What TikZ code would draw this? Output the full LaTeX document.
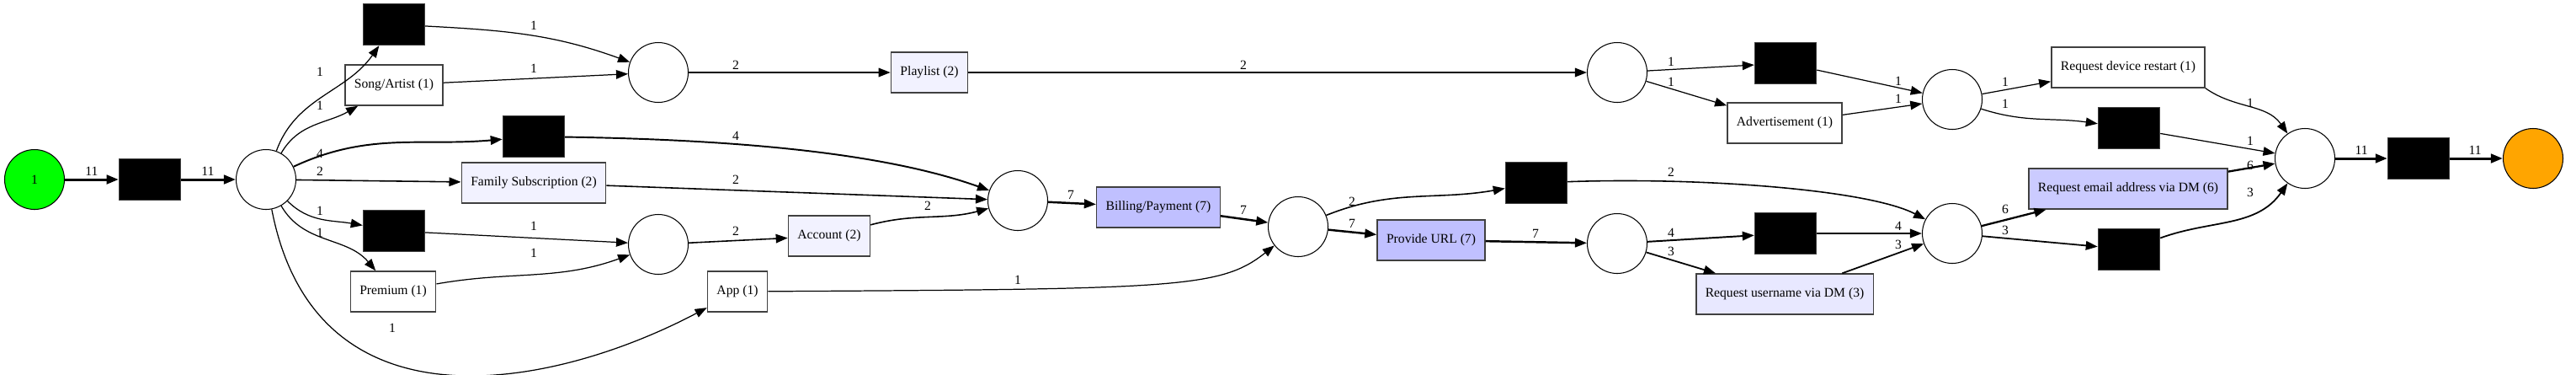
\documentclass[tikz,border=0pt]{standalone}
\usepackage{fontspec}
\setmainfont{Liberation Serif}
\usetikzlibrary{arrows.meta}

\definecolor{actlight}{HTML}{F2F2FF}
\definecolor{actpale}{HTML}{E8E8FF}
\definecolor{actmid}{HTML}{CBCBFF}
\definecolor{actdark}{HTML}{C0C0FF}
\definecolor{startgreen}{HTML}{00FF00}
\definecolor{endorange}{HTML}{FFA500}

\tikzset{
	place/.style={circle, draw, line width=0.3pt, minimum size=0.71cm, inner sep=0pt, font=\fontsize{4.45}{5}\selectfont},
	silent/.style={rectangle, draw=black!75, fill=black, minimum width=0.73cm, minimum height=0.49cm, inner sep=0pt},
	activity/.style={rectangle, draw=black!75, line width=0.42pt, minimum height=0.48cm, inner xsep=0.11cm, inner ysep=0pt, font=\fontsize{4.45}{5}\selectfont},
	flow/.style={-{Triangle[length=4pt,width=3pt]}, line width=#1},
	flow/.default=0.35pt,
	wt/.style={inner sep=0pt, font=\fontsize{4.45}{5}\selectfont}
}

\begin{document}
\begin{tikzpicture}
	\useasboundingbox (0,0) rectangle (30.6,-4.44);

	\node[place, fill=startgreen] (src) at (0.41,-2.13) {1};
	\node[silent] (t0) at (1.78,-2.13) {};
	\node[place] (p1) at (3.16,-2.13) {};
	\node[silent] (ta) at (4.68,-0.29) {};
	\node[activity] (song) at (4.68,-1.01) {Song/Artist (1)};
	\node[silent] (tb) at (6.34,-1.62) {};
	\node[activity, fill=actlight] (fam) at (6.34,-2.17) {Family Subscription (2)};
	\node[silent] (tc) at (4.68,-2.74) {};
	\node[activity] (prem) at (4.67,-3.46) {Premium (1)};
	\node[place] (p2) at (7.82,-0.86) {};
	\node[place] (p3) at (7.82,-2.90) {};
	\node[activity] (app) at (8.76,-3.46) {App (1)};
	\node[activity, fill=actlight] (play) at (11.04,-0.86) {Playlist (2)};
	\node[activity, fill=actlight] (acc) at (9.85,-2.80) {Account (2)};
	\node[place] (p4) at (12.09,-2.38) {};
	\node[activity, fill=actdark] (bill) at (13.76,-2.46) {Billing/Payment (7)};
	\node[place] (p5) at (15.42,-2.69) {};
	\node[place] (p6) at (19.21,-0.86) {};
	\node[silent] (td) at (21.21,-0.75) {};
	\node[activity] (adv) at (21.20,-1.46) {Advertisement (1)};
	\node[silent] (te) at (18.25,-2.17) {};
	\node[activity, fill=actdark] (url) at (17.00,-2.85) {Provide URL (7)};
	\node[place] (p7) at (19.21,-2.89) {};
	\node[silent] (tf) at (21.21,-2.77) {};
	\node[activity, fill=actpale] (user) at (21.20,-3.49) {Request username via DM (3)};
	\node[place] (p9) at (23.19,-1.18) {};
	\node[place] (p8) at (23.19,-2.77) {};
	\node[activity] (restart) at (25.28,-0.80) {Request device restart (1)};
	\node[silent] (tg) at (25.29,-1.52) {};
	\node[activity, fill=actmid] (email) at (25.28,-2.24) {Request email address via DM (6)};
	\node[silent] (th) at (25.29,-2.96) {};
	\node[place] (p10) at (27.38,-1.88) {};
	\node[silent] (tend) at (28.73,-1.88) {};
	\node[place, fill=endorange] (sink) at (30.09,-1.88) {};

	\draw[flow=0.85pt] (src) -- (t0);
	\draw[flow=0.85pt] (t0) -- (p1);
	\draw[flow] (p1) to[out=70, in=235] (ta);
	\draw[flow] (ta) to[out=-3, in=160] (p2);
	\draw[flow] (p1) to[out=60, in=210] (song);
	\draw[flow] (song) -- (p2);
	\draw[flow=0.55pt] (p1) to[out=25, in=185] (tb);
	\draw[flow=0.55pt] (tb) .. controls (9.0,-1.66) and (10.6,-1.85) .. (p4);
	\draw[flow=0.45pt] (p1) -- (fam);
	\draw[flow=0.45pt] (fam) -- (p4);
	\draw[flow] (p1) to[out=-45, in=170] (tc);
	\draw[flow] (tc) -- (p3);
	\draw[flow] (p1) to[out=-60, in=130] (prem);
	\draw[flow] (prem) to[out=10, in=200] (p3);
	\draw[flow] (p1) .. controls (3.75,-5.2) and (6.6,-4.6) .. (app);
	\draw[flow] (app) .. controls (14.0,-3.43) and (14.5,-3.42) .. (p5);
	\draw[flow=0.45pt] (p2) -- (play);
	\draw[flow=0.45pt] (play) -- (p6);
	\draw[flow=0.45pt] (p3) -- (acc);
	\draw[flow=0.45pt] (acc) to[out=15, in=195] (p4);
	\draw[flow=0.7pt] (p4) -- (bill);
	\draw[flow=0.7pt] (bill) -- (p5);
	\draw[flow=0.45pt] (p5) to[out=22, in=190] (te);
	\draw[flow=0.45pt] (te) .. controls (20.2,-2.1) and (22.2,-2.25) .. (p8);
	\draw[flow=0.7pt] (p5) -- (url);
	\draw[flow=0.7pt] (url) -- (p7);
	\draw[flow] (p6) -- (td);
	\draw[flow] (p6) -- (adv);
	\draw[flow] (td) -- (p9);
	\draw[flow] (adv) -- (p9);
	\draw[flow=0.55pt] (p7) -- (tf);
	\draw[flow=0.5pt] (p7) -- (user);
	\draw[flow=0.55pt] (tf) -- (p8);
	\draw[flow=0.5pt] (user) -- (p8);
	\draw[flow] (p9) -- (restart);
	\draw[flow] (p9) to[out=-18, in=172] (tg);
	\draw[flow] (restart.south east) to[out=-35, in=125] (p10);
	\draw[flow] (tg) -- (p10);
	\draw[flow=0.65pt] (p8) -- (email);
	\draw[flow=0.5pt] (p8) -- (th);
	\draw[flow=0.65pt] (email) -- (p10);
	\draw[flow=0.5pt] (th) to[out=20, in=235] (p10);
	\draw[flow=0.85pt] (p10) -- (tend);
	\draw[flow=0.85pt] (tend) -- (sink);

	\node[wt] (w1) at (1.09,-2.03) {11};
	\node[wt] (w2) at (2.47,-2.03) {11};
	\node[wt] (w3) at (3.80,-0.85) {1};
	\node[wt] (w4) at (3.80,-1.25) {1};
	\node[wt] (w5) at (3.80,-1.82) {4};
	\node[wt] (w6) at (3.80,-2.03) {2};
	\node[wt] (w7) at (3.80,-2.50) {1};
	\node[wt] (w8) at (3.80,-2.76) {1};
	\node[wt] (w9) at (4.66,-3.89) {1};
	\node[wt] (w10) at (6.34,-0.30) {1};
	\node[wt] (w11) at (6.34,-0.81) {1};
	\node[wt] (w12) at (6.34,-2.68) {1};
	\node[wt] (w13) at (6.34,-3.00) {1};
	\node[wt] (w14) at (8.74,-0.77) {2};
	\node[wt] (w15) at (14.77,-0.77) {2};
	\node[wt] (w16) at (8.74,-1.61) {4};
	\node[wt] (w17) at (8.74,-2.13) {2};
	\node[wt] (w18) at (8.74,-2.74) {2};
	\node[wt] (w19) at (11.02,-2.44) {2};
	\node[wt] (w20) at (12.72,-2.31) {7};
	\node[wt] (w21) at (14.77,-2.49) {7};
	\node[wt] (w22) at (12.09,-3.32) {1};
	\node[wt] (w23) at (16.06,-2.39) {2};
	\node[wt] (w24) at (16.06,-2.65) {7};
	\node[wt] (w25) at (19.85,-2.04) {2};
	\node[wt] (w26) at (18.24,-2.77) {7};
	\node[wt] (w27) at (19.85,-0.73) {1};
	\node[wt] (w28) at (19.85,-0.97) {1};
	\node[wt] (w29) at (22.55,-0.96) {1};
	\node[wt] (w30) at (22.55,-1.17) {1};
	\node[wt] (w31) at (19.85,-2.76) {4};
	\node[wt] (w32) at (19.85,-2.98) {3};
	\node[wt] (w33) at (22.55,-2.68) {4};
	\node[wt] (w34) at (22.55,-2.90) {3};
	\node[wt] (w35) at (23.82,-0.97) {1};
	\node[wt] (w36) at (23.82,-1.23) {1};
	\node[wt] (w37) at (26.73,-1.22) {1};
	\node[wt] (w38) at (26.73,-1.67) {1};
	\node[wt] (w39) at (26.73,-1.96) {6};
	\node[wt] (w40) at (26.73,-2.28) {3};
	\node[wt] (w41) at (23.82,-2.48) {6};
	\node[wt] (w42) at (23.82,-2.73) {3};
	\node[wt] (w43) at (28.05,-1.78) {11};
	\node[wt] (w44) at (29.40,-1.78) {11};
\end{tikzpicture}
\end{document}
